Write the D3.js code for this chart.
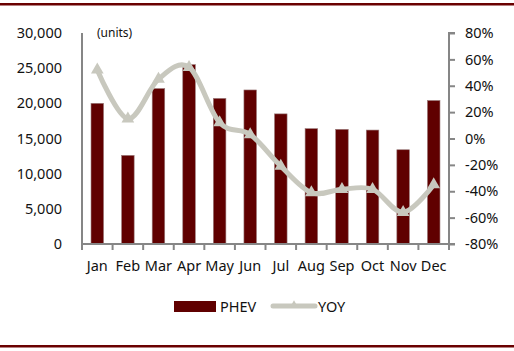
<!DOCTYPE html>
<html>
<head>
<meta charset="utf-8">
<script src="https://cdn.jsdelivr.net/npm/d3@7"></script>
<style>
body{margin:0;background:#fff;}
svg text{font-family:"Noto Sans",sans-serif;fill:#111;}
</style>
</head>
<body>
<svg id="chart"></svg>
<script>
var months=["Jan","Feb","Mar","Apr","May","Jun","Jul","Aug","Sep","Oct","Nov","Dec"];
var phev=[20000,12600,22100,25500,20700,21900,18500,16400,16300,16200,13400,20400];
var yoy=[52,15,45,54,12,3,-21,-41,-38.5,-38.5,-56,-35];
var leftTicks=[0,5000,10000,15000,20000,25000,30000];
var rightTicks=[-80,-60,-40,-20,0,20,40,60,80];

var width=514,height=351;
var margin={left:82,right:65,top:33,bottom:107};
var barColor="#600000";
var lineColor="#c8c8be";
var axisColor="#868686";

var svg=d3.select("#chart")
  .attr("width",width)
  .attr("height",height);

// frame lines top and bottom
svg.append("rect").attr("x",0).attr("y",3).attr("width",width).attr("height",2.5).attr("fill","#6a0000");
svg.append("rect").attr("x",0).attr("y",345).attr("width",width).attr("height",2.5).attr("fill","#6a0000");

var xScale=d3.scaleBand()
  .domain(months)
  .range([margin.left,width-margin.right]);
var yLeft=d3.scaleLinear()
  .domain([0,30000])
  .range([height-margin.bottom,margin.top]);
var yRight=d3.scaleLinear()
  .domain([-80,80])
  .range([height-margin.bottom,margin.top]);

var barW=xScale.bandwidth()*0.41;

svg.selectAll("rect.bar")
   .data(phev)
   .enter()
   .append("rect")
   .attr("class","bar")
   .attr("x",function(d,i){return xScale(months[i])+xScale.bandwidth()/2-barW/2;})
   .attr("y",function(d){return yLeft(d);})
   .attr("width",barW)
   .attr("height",function(d){return yLeft(0)-yLeft(d);})
   .attr("fill",barColor)
   .attr("stroke","#9a7a7a")
   .attr("stroke-width",0.6);

// axes
var fmt=d3.format(",");
var leftAxis=d3.axisLeft(yLeft).tickValues(leftTicks).tickSize(0).tickPadding(20).tickFormat(fmt);
var rightAxis=d3.axisRight(yRight).tickValues(rightTicks).tickSize(6).tickPadding(10).tickFormat(function(d){return d+"%";});
var bottomAxis=d3.axisBottom(xScale).tickSize(0).tickPadding(17);

var gl=svg.append("g").attr("transform","translate("+margin.left+",0)").call(leftAxis);
var gr=svg.append("g").attr("transform","translate("+(width-margin.right)+",0)").call(rightAxis);
var gb=svg.append("g").attr("transform","translate(0,"+(height-margin.bottom)+")").call(bottomAxis);

[gl,gr,gb].forEach(function(g){
  g.select(".domain").attr("stroke",axisColor).attr("stroke-width",2);
  g.selectAll(".tick line").attr("stroke",axisColor).attr("stroke-width",2);
  g.selectAll("text").style("font-size","14.5px").attr("fill","#111");
});
gl.select(".domain").attr("d","M0,"+yLeft(30000)+"V"+yLeft(0));
gr.select(".domain").attr("d","M6,"+yRight(80)+"H0V"+yRight(-80)+"H6");

// category boundary ticks on the bottom axis
var bounds=months.map(function(m){return xScale(m);}).concat([width-margin.right]);
gb.selectAll("line.bound")
  .data(bounds)
  .enter()
  .append("line")
  .attr("class","bound")
  .attr("x1",function(d){return d;})
  .attr("x2",function(d){return d;})
  .attr("y1",0)
  .attr("y2",6)
  .attr("stroke",axisColor)
  .attr("stroke-width",2);
gb.select(".domain").attr("d","M"+margin.left+",0H"+(width-margin.right));

svg.append("text")
  .attr("x",97)
  .attr("y",37)
  .style("font-size","12px")
  .text("(units)");

// YOY line
var line=d3.line()
  .x(function(d,i){return xScale(months[i])+xScale.bandwidth()/2;})
  .y(function(d){return yRight(d);})
  .curve(d3.curveCardinal.tension(0));

svg.append("path")
  .datum(yoy)
  .attr("d",line)
  .attr("fill","none")
  .attr("stroke",lineColor)
  .attr("stroke-width",5)
  .attr("stroke-linecap","round");

var tri=d3.symbol().type(d3.symbolTriangle).size(70);
svg.selectAll("path.marker")
   .data(yoy)
   .enter()
   .append("path")
   .attr("class","marker")
   .attr("d",tri)
   .attr("transform",function(d,i){
     return "translate("+(xScale(months[i])+xScale.bandwidth()/2)+","+yRight(d)+")";
   })
   .attr("fill",lineColor);

// legend
var lg=svg.append("g");
lg.append("rect").attr("x",174).attr("y",301).attr("width",42).attr("height",11).attr("fill",barColor);
lg.append("text").attr("x",220).attr("y",312).style("font-size","14.5px").text("PHEV");
lg.append("line").attr("x1",273).attr("x2",315).attr("y1",306).attr("y2",306)
  .attr("stroke",lineColor).attr("stroke-width",5).attr("stroke-linecap","round");
lg.append("path").attr("d",d3.symbol().type(d3.symbolTriangle).size(30))
  .attr("transform","translate(294,305)").attr("fill",lineColor);
lg.append("text").attr("x",318).attr("y",312).style("font-size","14.5px").text("YOY");
</script>
</body>
</html>
